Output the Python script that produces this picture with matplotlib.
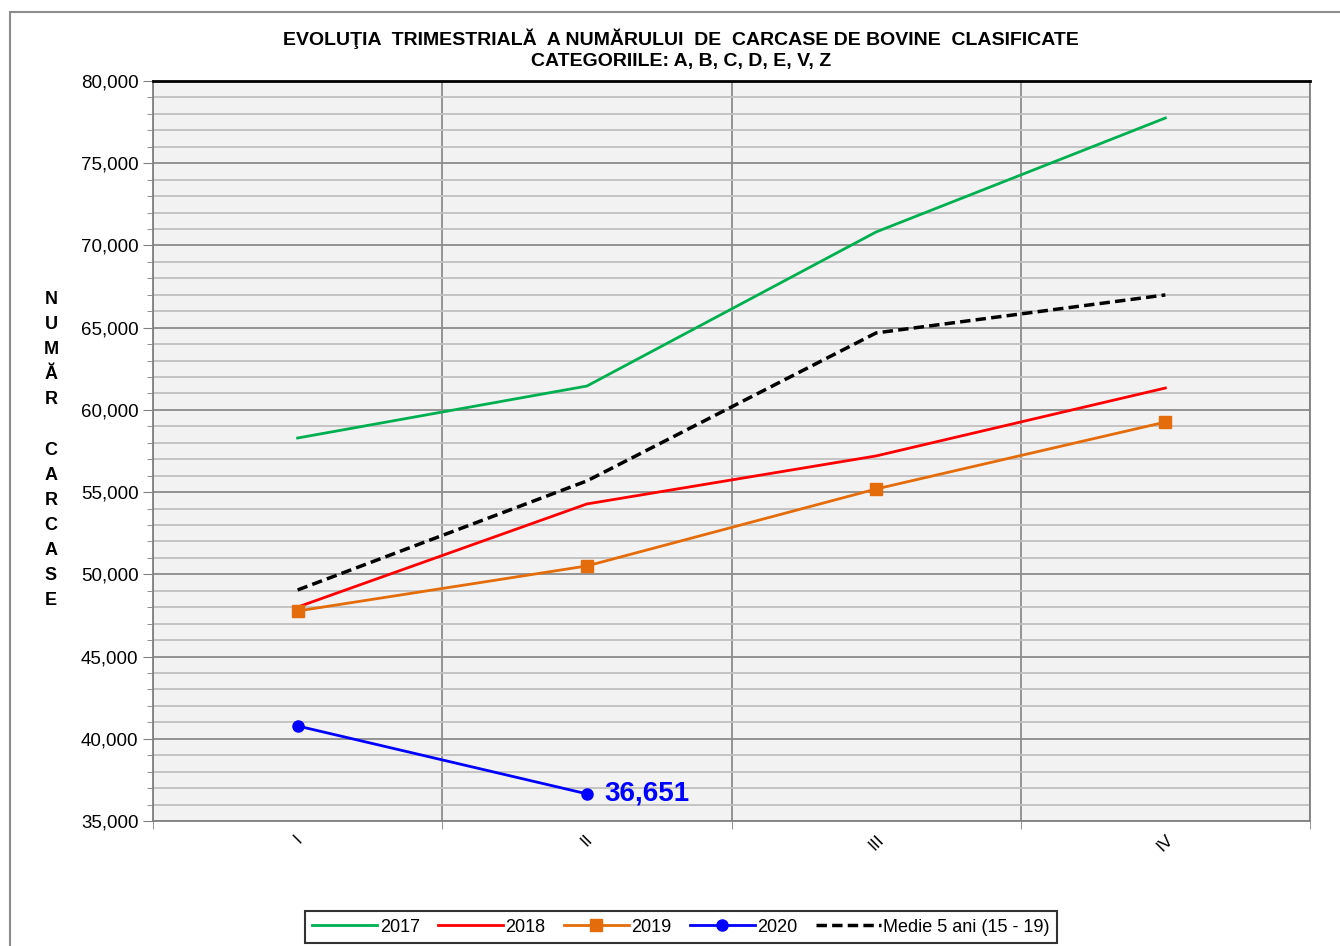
import matplotlib.pyplot as plt
from matplotlib.patches import Rectangle
from matplotlib.ticker import FuncFormatter, MultipleLocator

plt.rcParams['font.family'] = ['Liberation Sans', 'DejaVu Sans']

quarters = ['I', 'II', 'III', 'IV']
y2017 = [58290, 61450, 70820, 77750]
y2018 = [48010, 54280, 57200, 61330]
y2019 = [47770, 50510, 55190, 59260]
y2020 = [40780, 36651]
medie = [49050, 55680, 64680, 66990]

fig = plt.figure(figsize=(13.4, 9.46), dpi=100)
ax = fig.add_axes([153/1340, 1-821/946, 1157/1340, 740/946])
ax.set_facecolor('#f2f2f2')

x = [1, 2, 3, 4]
ax.plot(x, y2017, color='#00b050', lw=2, label='2017', zorder=5)
ax.plot(x, y2018, color='#ff0000', lw=2, label='2018', zorder=5)
ax.plot(x, y2019, color='#e46c0a', lw=2, marker='s', ms=8, label='2019', zorder=5)
ax.plot(x[:2], y2020, color='#0000ff', lw=2, marker='o', ms=8, label='2020', zorder=5)
ax.plot(x, medie, color='black', lw=2.5, ls=(0, (3, 1.5)), label='Medie 5 ani (15 - 19)', zorder=5)

# eticheta ultimei valori
ax.text(x[1] + 0.06, y2020[1], '{:,}'.format(y2020[1]), color='#0000ff',
        fontsize=20, fontweight='bold', va='center', ha='left', zorder=6)

ax.set_xlim(0.5, 4.5)
ax.set_ylim(35000, 80000)
ax.yaxis.set_major_locator(MultipleLocator(5000))
ax.yaxis.set_minor_locator(MultipleLocator(1000))
ax.yaxis.set_major_formatter(FuncFormatter(lambda v, p: '{:,.0f}'.format(v)))
ax.set_xticks(x)
ax.set_xticklabels(quarters, rotation=45, fontsize=12.5)
ax.set_xticks([0.5, 1.5, 2.5, 3.5, 4.5], minor=True)
ax.tick_params(axis='x', which='major', length=0, pad=8)
ax.tick_params(axis='x', which='minor', length=6, color='#808080')
ax.tick_params(axis='y', which='major', length=7, color='#808080', labelsize=13.5)
ax.tick_params(axis='y', which='minor', length=4, color='#808080')

ax.yaxis.grid(True, which='major', color='#8c8c8c', lw=1.3)
ax.yaxis.grid(True, which='minor', color='#c0c0c0', lw=1.3)
ax.xaxis.grid(True, which='minor', color='#8c8c8c', lw=1.3)
ax.set_axisbelow(True)

for s in ['left', 'right', 'bottom']:
    ax.spines[s].set_color('#808080')
    ax.spines[s].set_linewidth(1.3)
ax.spines['top'].set_color('black')
ax.spines['top'].set_linewidth(2)

fig.text(681/1340, 1-39/946, 'EVOLUŢIA  TRIMESTRIALĂ  A NUMĂRULUI  DE  CARCASE DE BOVINE  CLASIFICATE',
         ha='center', va='center', fontsize=14, fontweight='bold')
fig.text(681/1340, 1-61.5/946, 'CATEGORIILE: A, B, C, D, E, V, Z',
         ha='center', va='center', fontsize=14, fontweight='bold')

fig.text(51/1340, 1-450/946, 'N\nU\nM\nĂ\nR\n\nC\nA\nR\nC\nA\nS\nE',
         ha='center', va='center', fontsize=13, fontweight='bold', linespacing=1.62)

leg = fig.legend(loc='center', bbox_to_anchor=(681/1340, 1-927/946), ncol=5,
                 fontsize=13, frameon=True, fancybox=False, edgecolor='black',
                 handlelength=3.6, handletextpad=0.15, columnspacing=1.0,
                 borderpad=0.4, markerscale=1.0)
leg.get_frame().set_linewidth(1.5)

fig.patches.append(Rectangle((10/1340, -0.1), 2, 1 - 12/946 + 0.1, transform=fig.transFigure,
                             fill=False, edgecolor='#8c8c8c', lw=1.5))

fig.savefig('out.png', dpi=100)
